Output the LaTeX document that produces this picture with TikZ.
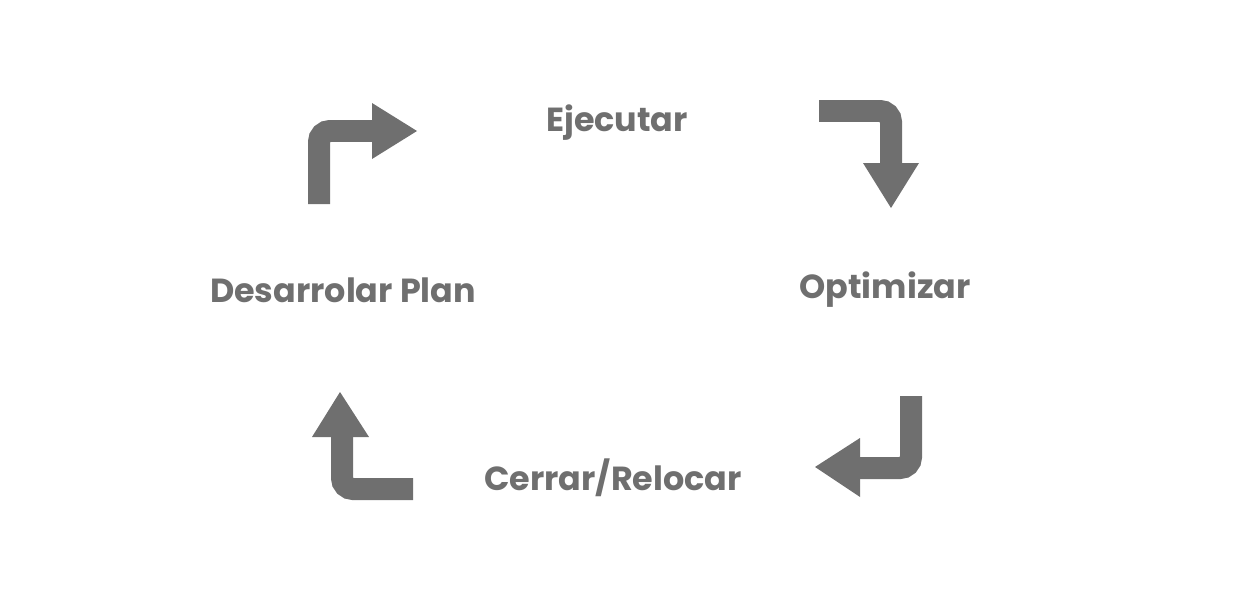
\documentclass[tikz,border=0pt]{standalone}
\usepackage{fontspec}
\setmainfont{Poppins}
\begin{document}
\begin{tikzpicture}[x=0.02cm,y=-0.02cm]

% colours and looks
\definecolor{arrowgray}{HTML}{6F6F6F}
\tikzset{
    steplabel/.style={text=arrowgray, font=\fontsize{19}{22}\selectfont\bfseries},
    shaft/.style={draw=arrowgray, line width=0.44cm, rounded corners=0.22cm},
    tip/.style={fill=arrowgray}
}

% canvas
\useasboundingbox (0,0) rectangle (1245,595);

% labels of the cycle
\node[steplabel] (ejecutar) at (617,123) {Ejecutar};
\node[steplabel] (optimizar) at (885,290) {Optimizar};
\node[steplabel] (cerrar) at (613,478) {Cerrar/Relocar};
\node[steplabel] (plan) at (343,290) {Desarrolar Plan};

% top left arrow
\draw[shaft] (319,204) -- (319,131) -- (373,131);
\fill[tip] (372,103) -- (417,131) -- (372,159) -- cycle;

% top right arrow
\draw[shaft] (819,111) -- (891,111) -- (891,164);
\fill[tip] (863,163) -- (919,163) -- (891,208) -- cycle;

% bottom right arrow
\draw[shaft] (911,396) -- (911,468) -- (859,468);
\fill[tip] (860,438) -- (815,467) -- (860,497) -- cycle;

% bottom left arrow
\draw[shaft] (413,489) -- (342,489) -- (342,436);
\fill[tip] (312,437) -- (340,392) -- (369,437) -- cycle;

\end{tikzpicture}
\end{document}
